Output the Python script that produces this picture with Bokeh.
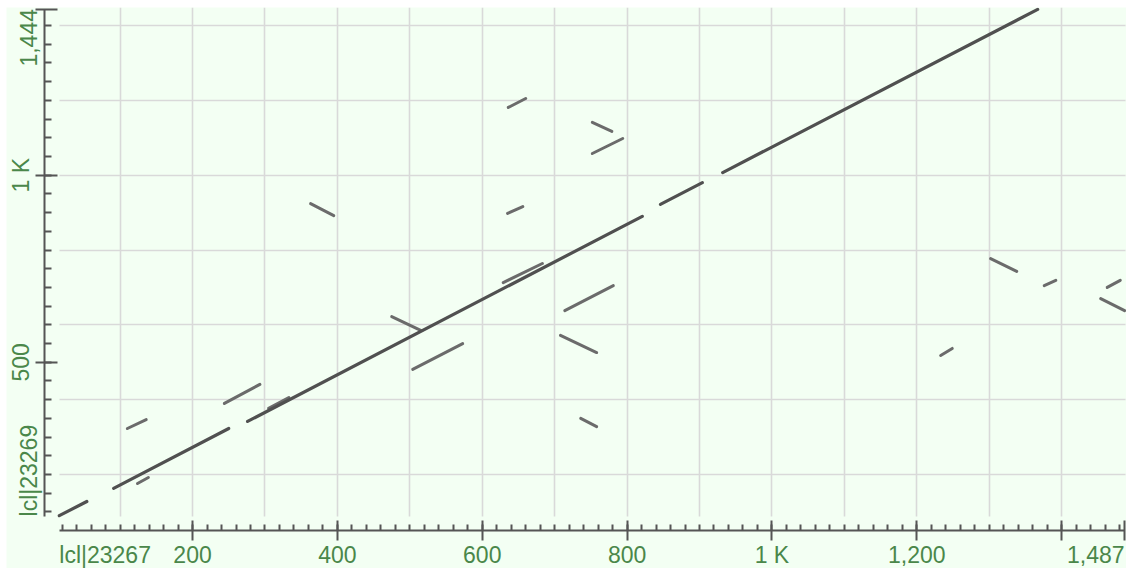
import math
from bokeh.plotting import figure
from bokeh.models import Range1d, FixedTicker, Label, ColumnDataSource
from bokeh.embed import file_html
from bokeh.resources import INLINE

# ---- sequence extents -------------------------------------------------
query_name = "lcl|23267"
subject_name = "lcl|23269"
query_start, query_end = 16, 1487
subject_start, subject_end = 88, 1444
query_end_label = "1,487"
subject_end_label = "1,444"

# ---- tick definitions ---------------------------------------------------
x_major_ticks = [200, 400, 600, 800, 1000, 1200, 1400, 1487]
x_major_labels = ["200", "400", "600", "800", "1 K", "1,200", "", ""]
x_minor_ticks = list(range(20, 1487, 20))
x_grid_ticks = [100, 200, 300, 400, 500, 600, 700, 800, 900, 1000, 1100, 1200, 1300, 1400]

y_major_ticks = [500, 1000, 1444]
y_major_labels = ["500", "1 K", ""]
y_minor_ticks = list(range(100, 1444, 50))
y_grid_ticks = [200, 400, 600, 800, 1000, 1200, 1400]

# ---- alignment segments (query x, subject y) ---------------------------
diag_x0 = [16, 91, 276, 846, 932]
diag_y0 = [90, 163, 342, 922, 1007]
diag_x1 = [54, 250, 821, 904, 1367]
diag_y1 = [128, 323, 890, 980, 1443]

off_x0 = [110, 124, 244, 305, 363, 475, 504, 636, 635, 629, 714, 708, 736, 752, 752, 1233, 1302, 1376, 1463, 1454]
off_y0 = [323, 176, 390, 377, 924, 622, 481, 1181, 898, 713, 638, 572, 350, 1141, 1058, 518, 777, 705, 700, 670]
off_x1 = [136, 139, 293, 333, 395, 515, 573, 660, 656, 683, 781, 758, 758, 779, 794, 1249, 1338, 1392, 1481, 1487]
off_y1 = [347, 192, 441, 406, 892, 585, 550, 1205, 916, 764, 705, 526, 328, 1117, 1098, 537, 743, 719, 719, 638]

BG = "#F3FFF3"
TXT = "#4a874a"
AX = "#555555"
FONT = "Liberation Sans"
FS = "23px"

# the frame covers the whole canvas; the axes are drawn at fixed positions inside it
X_LO, X_HI = -56.9, 1489.6
Y_LO, Y_HI = -51.1, 1448.1
X_AXIS_AT = 50.4     # subject coordinate where the query axis line sits
Y_AXIS_AT = -4.4     # query coordinate where the subject axis line sits

p = figure(width=1120, height=561, output_backend="svg", toolbar_location=None,
           x_range=Range1d(X_LO, X_HI), y_range=Range1d(Y_LO, Y_HI),
           min_border_left=0, min_border_right=0, min_border_top=0, min_border_bottom=0)
p.margin = (7, 0, 0, 6)
p.background_fill_color = BG
p.border_fill_color = BG
p.outline_line_color = None

# grids
p.xgrid.ticker = FixedTicker(ticks=x_grid_ticks)
p.ygrid.ticker = FixedTicker(ticks=y_grid_ticks)
p.xgrid.bounds = (query_start, query_end)
p.xgrid.cross_bounds = (subject_start, subject_end + 4)
p.ygrid.bounds = (subject_start, subject_end)
p.ygrid.cross_bounds = (query_start, query_end + 1)
for g in (p.xgrid, p.ygrid):
    g.grid_line_color = "#d9d9d9"
    g.grid_line_width = 1.6

# x axis
xa = p.xaxis[0]
xa.fixed_location = X_AXIS_AT
xa.ticker = FixedTicker(ticks=x_major_ticks, minor_ticks=x_minor_ticks)
xa.major_label_overrides = dict(zip(x_major_ticks, x_major_labels))
xa.bounds = (query_start, query_end)
xa.major_tick_in = 10
xa.major_tick_out = 10
xa.minor_tick_in = 6
xa.minor_tick_out = 0
xa.major_label_standoff = 1

# y axis
ya = p.yaxis[0]
ya.fixed_location = Y_AXIS_AT
ya.ticker = FixedTicker(ticks=y_major_ticks, minor_ticks=y_minor_ticks)
ya.major_label_overrides = dict(zip(y_major_ticks, y_major_labels))
ya.bounds = (subject_start, subject_end)
ya.major_tick_in = 13
ya.major_tick_out = 9
ya.minor_tick_in = 7
ya.minor_tick_out = 0
ya.major_label_standoff = 2
ya.major_label_orientation = "vertical"

for a in (xa, ya):
    a.axis_line_color = AX
    a.axis_line_width = 2
    a.major_tick_line_color = AX
    a.major_tick_line_width = 2
    a.minor_tick_line_color = AX
    a.minor_tick_line_width = 2
    a.major_label_text_color = TXT
    a.major_label_text_font = FONT
    a.major_label_text_font_size = FS

# segments
diag = ColumnDataSource(dict(x0=diag_x0, y0=diag_y0, x1=diag_x1, y1=diag_y1))
off = ColumnDataSource(dict(x0=off_x0, y0=off_y0, x1=off_x1, y1=off_y1))
p.segment("x0", "y0", "x1", "y1", source=off, line_color="#6b6b6b", line_width=3, line_cap="round")
p.segment("x0", "y0", "x1", "y1", source=diag, line_color="#505050", line_width=3.2, line_cap="round")

# end labels of the axes
common = dict(text_baseline="alphabetic", text_color=TXT, text_font=FONT, text_font_size=FS)
p.add_layout(Label(x=query_start, y=X_AXIS_AT, y_offset=-24, text=query_name, text_align="left", **common))
p.add_layout(Label(x=query_end, y=X_AXIS_AT, y_offset=-24, text=query_end_label, text_align="right", **common))
p.add_layout(Label(x=Y_AXIS_AT, y=subject_start, x_offset=-16, text=subject_name, text_align="left",
                   angle=math.pi / 2, **common))
p.add_layout(Label(x=Y_AXIS_AT, y=subject_end, x_offset=-16, text=subject_end_label, text_align="right",
                   angle=math.pi / 2, **common))

open("out.html", "w").write(file_html(p, INLINE))
